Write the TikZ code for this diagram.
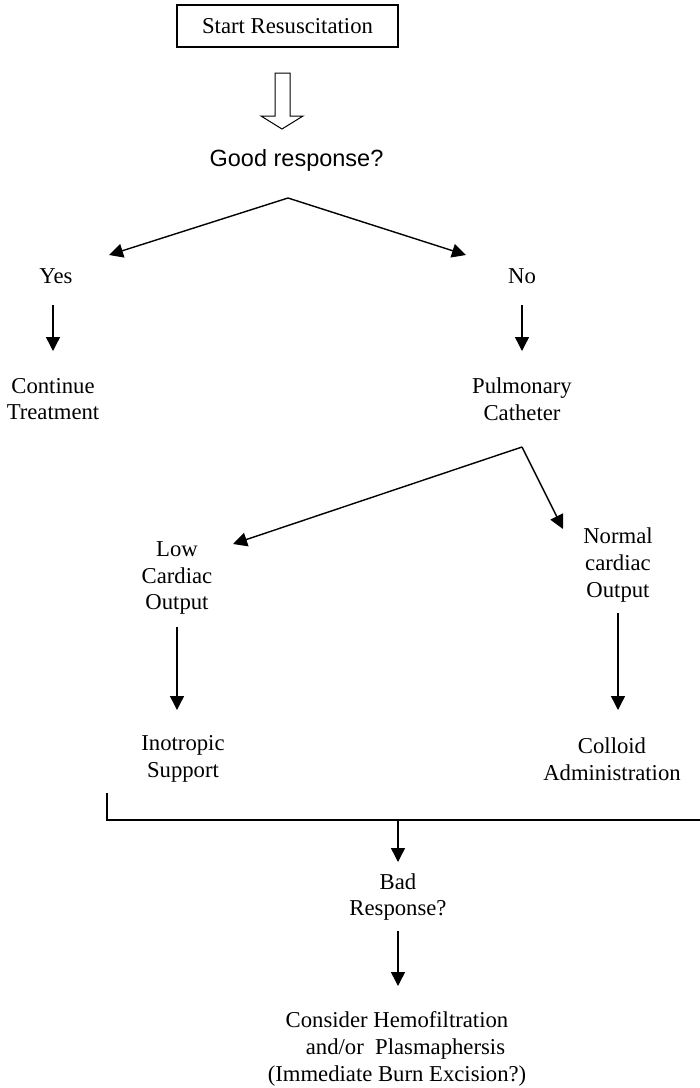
\documentclass[tikz,border=0pt]{standalone}
\usepackage{fontspec}
\setmainfont{Liberation Serif}
\newfontfamily\arialfont{Liberation Sans}
\usetikzlibrary{arrows.meta}
\begin{document}
\begin{tikzpicture}[x=1pt,y=-1pt,
  txt/.style={inner sep=0pt,align=center,font=\fontsize{22.7}{26.7}\selectfont},
  sanstxt/.style={inner sep=0pt,align=center,font=\arialfont\fontsize{23.5}{27}\selectfont},
  startbox/.style={draw,line width=1.1pt,minimum width=221pt,minimum height=42pt,inner sep=0pt,font=\fontsize{22.7}{26.7}\selectfont},
  conn/.style={line width=1.4pt,-{Triangle[length=14pt,width=14pt]}},
  plain/.style={line width=1.4pt},
  hollow/.style={line width=1pt}]
\useasboundingbox (0,0) rectangle (700,1088);
% nodes
\node[startbox] (start) at (287.5,26) {Start Resuscitation};
\node[sanstxt] (good) at (296.5,160) {Good response?};
\node[txt] (yes) at (56,276) {Yes};
\node[txt] (no) at (522,276) {No};
\node[txt] (cont) at (53,399) {Continue\\Treatment};
\node[txt] (pulm) at (522,399) {Pulmonary\\Catheter};
\node[txt] (low) at (177,578) {Low\\Cardiac\\Output};
\node[txt] (norm) at (618,565) {Normal\\cardiac\\Output};
\node[txt] (ino) at (183,759) {Inotropic\\Support};
\node[txt] (coll) at (612,759) {Colloid\\Administration};
\node[txt] (bad) at (398,897) {Bad\\Response?};
\node[txt] (cons) at (397,1049) {Consider Hemofiltration\\\hspace*{17pt}and/or\enspace Plasmaphersis\\(Immediate Burn Excision?)};
% coordinates
\coordinate (apexA) at (288,198);
\coordinate (yesTip) at (109,255);
\coordinate (noTip) at (466,255);
\coordinate (yesA) at (53,305);
\coordinate (yesB) at (53,351);
\coordinate (noA) at (522,305);
\coordinate (noB) at (522,351);
\coordinate (apexB) at (522,447);
\coordinate (lowTip) at (233,544);
\coordinate (normTip) at (563,529);
\coordinate (lowA) at (177,627);
\coordinate (lowB) at (177,710);
\coordinate (normA) at (618,613);
\coordinate (normB) at (618,710);
\coordinate (brL) at (107,793);
\coordinate (brLc) at (107,820);
\coordinate (brR) at (700,820);
\coordinate (brM) at (398,820);
\coordinate (badTip) at (398,862);
\coordinate (badA) at (398,931);
\coordinate (badB) at (398,986);
% hollow arrow from start to good
\draw[hollow] (275,73) -- (290,73) -- (290,116) -- (303,116) -- (282,129) -- (261,116) -- (275,116) -- cycle;
% connectors
\draw[conn] (apexA) -- (yesTip);
\draw[conn] (apexA) -- (noTip);
\draw[conn] (yesA) -- (yesB);
\draw[conn] (noA) -- (noB);
\draw[conn] (apexB) -- (lowTip);
\draw[conn] (apexB) -- (normTip);
\draw[conn] (lowA) -- (lowB);
\draw[conn] (normA) -- (normB);
\draw[plain] (brL) -- (brLc) -- (brR);
\draw[conn] (brM) -- (badTip);
\draw[conn] (badA) -- (badB);
\end{tikzpicture}
\end{document}
